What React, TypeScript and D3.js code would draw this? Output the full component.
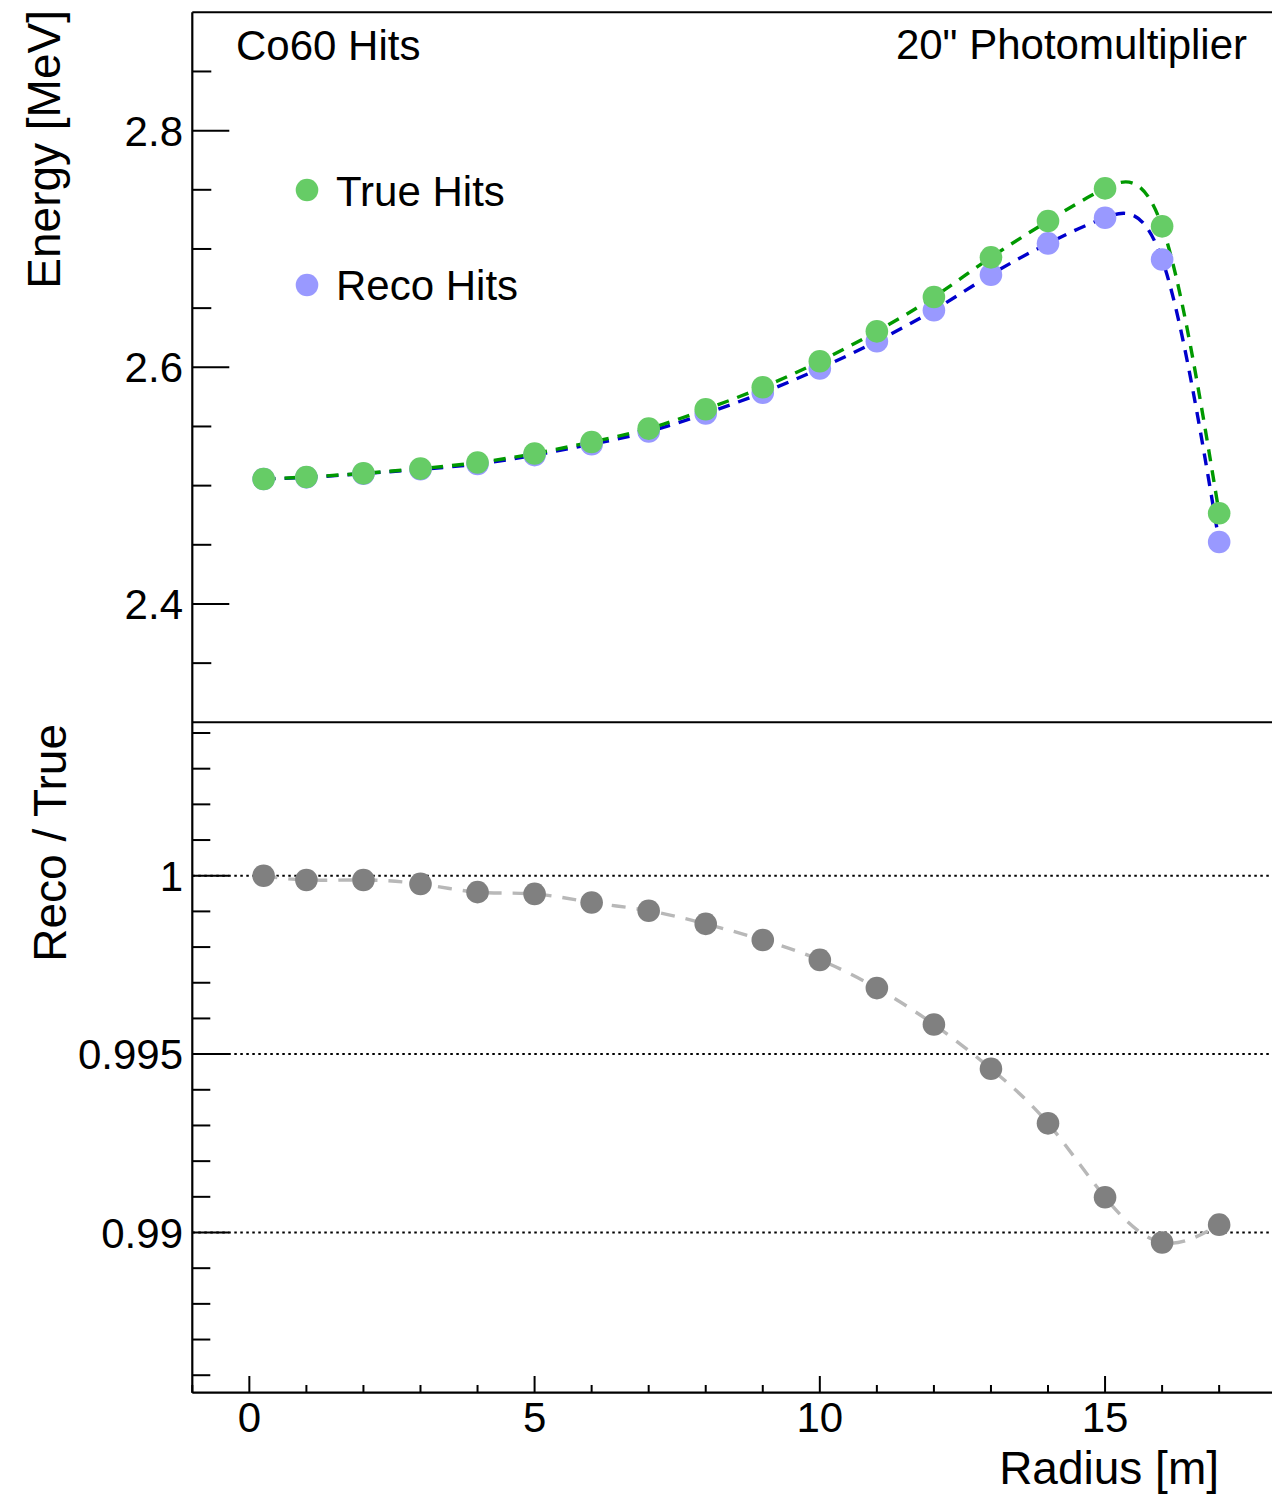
import React from "react";
import * as d3 from "d3";

const radius = [0.25, 1, 2, 3, 4, 5, 6, 7, 8, 9, 10, 11, 12, 13, 14, 15, 16, 17];
const trueHits = [2.5056, 2.5073, 2.5104, 2.5144, 2.5195, 2.5271, 2.5369, 2.5482, 2.5645, 2.5831, 2.6051, 2.6304, 2.6594, 2.6929, 2.7236, 2.7512, 2.7191, 2.4766];
const recoHits = [2.5056, 2.507, 2.5101, 2.5138, 2.5183, 2.5258, 2.535, 2.5457, 2.561, 2.5785, 2.599, 2.6221, 2.6483, 2.6783, 2.7047, 2.7264, 2.6911, 2.4524];
const ratio = [1.0, 0.99988, 0.99988, 0.99977, 0.99954, 0.99949, 0.99925, 0.99902, 0.99865, 0.9982, 0.99764, 0.99685, 0.99583, 0.99459, 0.99306, 0.99099, 0.98972, 0.99022];

const xMajorTicks = [0, 5, 10, 15];
const topMajorTicks = [2.4, 2.6, 2.8];
const botMajorTicks = [0.99, 0.995, 1];
const botTickLabels = ["0.99", "0.995", "1"];
const refLines = [1, 0.995, 0.99];

const W = 1272;
const H = 1494;
const FONT = "'Liberation Sans', Arial, Helvetica, sans-serif";

export default function App() {
  const left = 192.3;
  const x = d3.scaleLinear().domain([-1, 18]).range([left, 1276.2]);
  const yTop = d3.scaleLinear().domain([2.3, 2.9]).range([722.3, 12.3]);
  const yBot = d3.scaleLinear().domain([0.98551, 1.0043]).range([1392.7, 722.3]);

  const lineTop = (vals: number[]) =>
    d3
      .line<number>()
      .x((_, i) => x(radius[i]))
      .y((v) => yTop(v))
      .curve(d3.curveNatural)(vals) || "";
  const lineBot =
    d3
      .line<number>()
      .x((_, i) => x(radius[i]))
      .y((v) => yBot(v))
      .curve(d3.curveNatural)(ratio) || "";

  const xMinor = d3.range(-1, 19).filter((v) => !xMajorTicks.includes(v));
  const topMinor = d3
    .range(0, 13)
    .map((i) => +(2.3 + i * 0.05).toFixed(3))
    .filter((v) => v > 2.3 && v < 2.9 && !topMajorTicks.some((m) => Math.abs(m - v) < 1e-6));
  const botMinor = d3
    .range(0, 20)
    .map((i) => +(0.986 + i * 0.001).toFixed(4))
    .filter((v) => v > 0.98551 && v < 1.0043 && !botMajorTicks.some((m) => Math.abs(m - v) < 1e-6));

  const R = 11.3;

  return (
    <div style={{ position: "absolute", left: 0, top: 0 }}>
      <svg width={W} height={H} style={{ display: "block", background: "#fff" }} fontFamily={FONT}>
        {/* reference lines bottom */}
        {refLines.map((v) => (
          <line key={"rl" + v} x1={left} x2={W} y1={yBot(v)} y2={yBot(v)} stroke="#000" strokeWidth={2} strokeDasharray="2.5,3.5" />
        ))}

        {/* top curves */}
        <path d={lineTop(recoHits)} fill="none" stroke="#0000cc" strokeWidth={3.4} strokeDasharray="12,9" />
        <path d={lineTop(trueHits)} fill="none" stroke="#009900" strokeWidth={3.4} strokeDasharray="12,9" />
        {radius.map((r, i) => (
          <circle key={"rc" + i} cx={x(r)} cy={yTop(recoHits[i])} r={R} fill="#9999ff" />
        ))}
        {radius.map((r, i) => (
          <circle key={"tc" + i} cx={x(r)} cy={yTop(trueHits[i])} r={R} fill="#66cc66" />
        ))}

        {/* bottom curve */}
        <path d={lineBot} fill="none" stroke="#b8b8b8" strokeWidth={3.4} strokeDasharray="14,11" />
        {radius.map((r, i) => (
          <circle key={"gc" + i} cx={x(r)} cy={yBot(ratio[i])} r={R} fill="#808080" />
        ))}

        {/* frames */}
        <line x1={left} x2={W} y1={12.3} y2={12.3} stroke="#000" strokeWidth={2} />
        <line x1={left} x2={W} y1={722.3} y2={722.3} stroke="#000" strokeWidth={2} />
        <line x1={left} x2={W} y1={1392.7} y2={1392.7} stroke="#000" strokeWidth={2.2} />
        <line x1={left} x2={left} y1={12.3} y2={1392.7} stroke="#000" strokeWidth={2.2} />

        {/* top y ticks */}
        {topMajorTicks.map((v) => (
          <g key={"tm" + v}>
            <line x1={left} x2={left + 37} y1={yTop(v)} y2={yTop(v)} stroke="#000" strokeWidth={2} />
            <text x={183} y={yTop(v) + 15} fontSize={42} textAnchor="end">
              {v.toFixed(1)}
            </text>
          </g>
        ))}
        {topMinor.map((v) => (
          <line key={"tn" + v} x1={left} x2={left + 19} y1={yTop(v)} y2={yTop(v)} stroke="#000" strokeWidth={2} />
        ))}

        {/* bottom y ticks */}
        {botMajorTicks.map((v, i) => (
          <g key={"bm" + v}>
            <line x1={left} x2={left + 37} y1={yBot(v)} y2={yBot(v)} stroke="#000" strokeWidth={2} />
            <text x={183} y={yBot(v) + 15} fontSize={42} textAnchor="end">
              {botTickLabels[i]}
            </text>
          </g>
        ))}
        {botMinor.map((v) => (
          <line key={"bn" + v} x1={left} x2={left + 18} y1={yBot(v)} y2={yBot(v)} stroke="#000" strokeWidth={2} />
        ))}

        {/* x ticks */}
        {xMajorTicks.map((v) => (
          <g key={"xm" + v}>
            <line x1={x(v)} x2={x(v)} y1={1392.7} y2={1376} stroke="#000" strokeWidth={2} />
            <text x={x(v)} y={1432} fontSize={42} textAnchor="middle">
              {v}
            </text>
          </g>
        ))}
        {xMinor.map((v) => (
          <line key={"xn" + v} x1={x(v)} x2={x(v)} y1={1392.7} y2={1385} stroke="#000" strokeWidth={2} />
        ))}

        {/* titles */}
        <text transform="translate(60,10) rotate(-90)" fontSize={46} textAnchor="end">
          Energy [MeV]
        </text>
        <text transform="translate(66,724) rotate(-90)" fontSize={46} textAnchor="end">
          Reco / True
        </text>
        <text x={1219} y={1484} fontSize={46} textAnchor="end">
          Radius [m]
        </text>

        <text x={236} y={60} fontSize={42}>
          Co60 Hits
        </text>
        <text x={1247} y={59} fontSize={42} textAnchor="end">
          20" Photomultiplier
        </text>

        {/* legend */}
        <circle cx={307} cy={190} r={R} fill="#66cc66" />
        <text x={336} y={206} fontSize={42}>
          True Hits
        </text>
        <circle cx={307} cy={285} r={R} fill="#9999ff" />
        <text x={336} y={300} fontSize={42}>
          Reco Hits
        </text>
      </svg>
    </div>
  );
}
